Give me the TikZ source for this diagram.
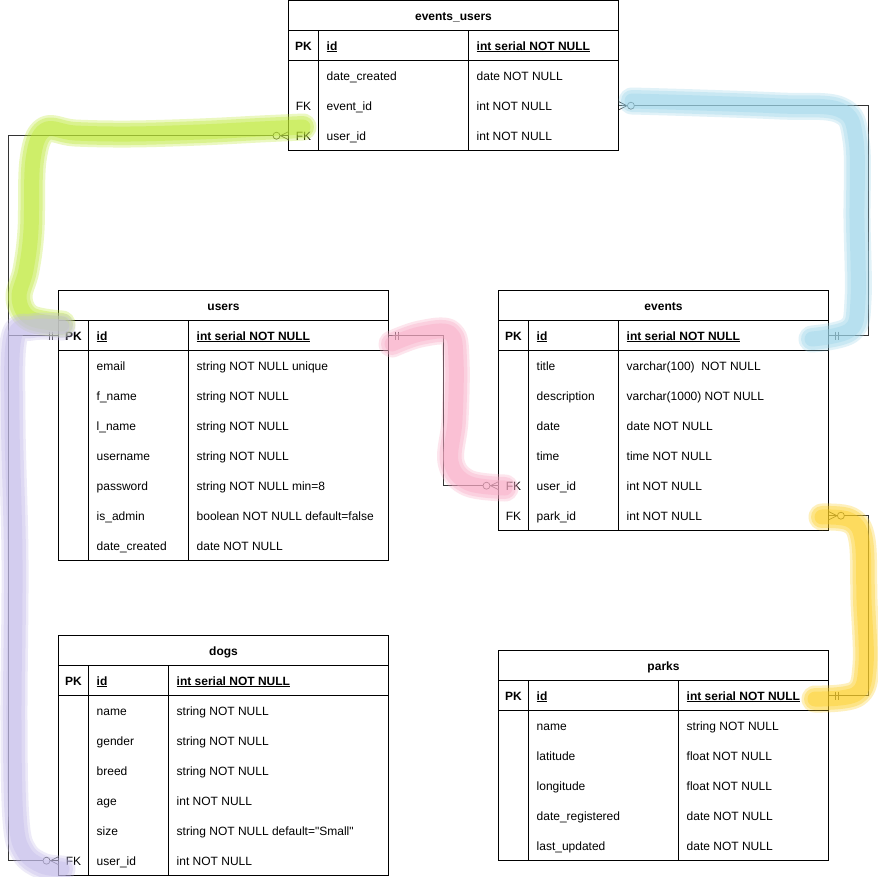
\documentclass[tikz,border=0pt]{standalone}
\usepackage{fontspec}
\setmainfont{Liberation Sans}[Ligatures=TeXOff]
\usetikzlibrary{calc}
\definecolor{hlgreen}{HTML}{BDE832}
\definecolor{hlblue}{HTML}{9DD6EA}
\definecolor{hlpink}{HTML}{F9AAC5}
\definecolor{hlyellow}{HTML}{FDCF22}
\definecolor{hlpurple}{HTML}{C4BCEA}
\newcommand\tabfont{\fontsize{12}{14}\selectfont}
\newcommand\nok{}
% #1 name #2 L #3 C1 #4 C2 #5 R #6 T #7 n rows (without PK) #8 title #9 rows
\newcommand\ertable[9]{%
  \pgfmathsetmacro\tw{#5-#2}%
  \pgfmathsetmacro\tmid{(#2+#5)/2}%
  \pgfmathsetmacro\kmid{(#2+#3)/2}%
  \pgfmathsetmacro\bot{#6+60+30*#7}%
  \node[celltxt, font=\tabfont\bfseries] (#1-title) at (\tmid,#6+15.5) {#8};
  \foreach[count=\i from 0] \k/\f/\ty in {#9}{%
    \pgfmathsetmacro\yy{#6+30+30*\i}%
    \node[rowbox, minimum width=\tw pt, anchor=north west] (#1-\i) at (#2,\yy) {};
    \ifnum\i=0
      \node[celltxt, font=\tabfont\bfseries] (#1-\i-k) at (\kmid,\yy+15.5) {\k};
      \node[celltxt, anchor=west, font=\tabfont\bfseries] (#1-\i-f) at (#3+8,\yy+15.5) {\underline{\f}};
      \node[celltxt, anchor=west, font=\tabfont\bfseries] (#1-\i-t) at (#4+8,\yy+15.5) {\underline{\ty}};
    \else
      \node[celltxt] (#1-\i-k) at (\kmid,\yy+15.5) {\k};
      \node[celltxt, anchor=west] (#1-\i-f) at (#3+8,\yy+15.5) {\f};
      \node[celltxt, anchor=west] (#1-\i-t) at (#4+8,\yy+15.5) {\ty};
    \fi
  }
  \draw[tline] (#2,#6) rectangle (#5,\bot);
  \draw[tline] (#2,#6+30) -- (#5,#6+30) (#2,#6+60) -- (#5,#6+60)
               (#3,#6+30) -- (#3,\bot) (#4,#6+30) -- (#4,\bot);
}
% zero-or-many marker: #1 anchor, #2 outward sign
\newcommand\zmany[2]{%
  \draw[conn] ($(#1)+(0,4)$) -- ($(#1)+(#2*8,0)$) -- ($(#1)+(0,-4)$);
  \draw[conn, fill=white] ($(#1)+(#2*12,0)$) circle[radius=3.5];
}
% mandatory-one marker
\newcommand\mone[2]{%
  \draw[conn] ($(#1)+(#2*6,-4)$) -- ($(#1)+(#2*6,4)$);
  \draw[conn] ($(#1)+(#2*9,-4)$) -- ($(#1)+(#2*9,4)$);
}
% brush stroke: #1 colour, #2 coordinates
\newcommand\brush[2]{%
  \draw[hl, #1, line width=27pt, opacity=0.30] plot[smooth, tension=0.6] coordinates {#2};
  \draw[hl, #1, line width=22pt, opacity=0.35] plot[smooth, tension=0.6] coordinates {#2};
  \draw[hl, #1, line width=15pt, opacity=0.40] plot[smooth, tension=0.6] coordinates {#2};
}
\begin{document}
\begin{tikzpicture}[x=1pt,y=-1pt,
  celltxt/.style={inner sep=0pt, text height=10pt, text depth=2pt, font=\tabfont},
  rowbox/.style={inner sep=0pt, minimum height=30pt, draw=none},
  tline/.style={draw=black, line width=1pt},
  conn/.style={draw=black!80, line width=0.7pt},
  hl/.style={line cap=round, line join=round}]
\useasboundingbox (0,0) rectangle (878,876);
\fill[white] (0,0) rectangle (878,876);

\ertable{eu}{288.5}{318.5}{468.5}{618.5}{0.5}{3}{events\_users}{%
  PK/id/int serial NOT NULL,
  \nok/date\_created/date NOT NULL,
  FK/event\_id/int NOT NULL,
  FK/user\_id/int NOT NULL}

\ertable{users}{58.5}{88.5}{188.5}{388.5}{290.5}{7}{users}{%
  PK/id/int serial NOT NULL,
  \nok/email/string NOT NULL unique,
  \nok/f\_name/string NOT NULL,
  \nok/l\_name/string NOT NULL,
  \nok/username/string NOT NULL,
  \nok/password/string NOT NULL min=8,
  \nok/is\_admin/boolean NOT NULL default=false,
  \nok/date\_created/date NOT NULL}

\ertable{events}{498.5}{528.5}{618.5}{828.5}{290.5}{6}{events}{%
  PK/id/int serial NOT NULL,
  \nok/title/varchar(100)\ \ NOT NULL,
  \nok/description/varchar(1000) NOT NULL,
  \nok/date/date NOT NULL,
  \nok/time/time NOT NULL,
  FK/user\_id/int NOT NULL,
  FK/park\_id/int NOT NULL}

\ertable{dogs}{58.5}{88.5}{168.5}{388.5}{635.5}{6}{dogs}{%
  PK/id/int serial NOT NULL,
  \nok/name/string NOT NULL,
  \nok/gender/string NOT NULL,
  \nok/breed/string NOT NULL,
  \nok/age/int NOT NULL,
  \nok/size/string NOT NULL default="Small",
  FK/user\_id/int NOT NULL}

\ertable{parks}{498.5}{528.5}{678.5}{828.5}{650.5}{5}{parks}{%
  PK/id/int serial NOT NULL,
  \nok/name/string NOT NULL,
  \nok/latitude/float NOT NULL,
  \nok/longitude/float NOT NULL,
  \nok/date\_registered/date NOT NULL,
  \nok/last\_updated/date NOT NULL}

% connectors
\coordinate (lx) at (8.5,0);
\coordinate (rx) at (868.5,0);
\coordinate (mx) at (443.5,0);
\draw[conn] (eu-3.west) -- (eu-3.west -| lx) -- (users-0.west -| lx) -- (users-0.west);
\draw[conn] (dogs-6.west) -- (dogs-6.west -| lx) -- (users-0.west -| lx) -- (users-0.west);
\draw[conn] (eu-2.east) -- (eu-2.east -| rx) -- (events-0.east -| rx) -- (events-0.east);
\draw[conn] (users-0.east) -- (users-0.east -| mx) -- (events-5.west -| mx) -- (events-5.west);
\draw[conn] (events-6.east) -- (events-6.east -| rx) -- (parks-0.east -| rx) -- (parks-0.east);

\zmany{eu-3.west}{-1}
\zmany{dogs-6.west}{-1}
\zmany{eu-2.east}{1}
\zmany{events-5.west}{-1}
\zmany{events-6.east}{1}
\mone{users-0.west}{-1}
\mone{users-0.east}{1}
\mone{events-0.east}{1}
\mone{parks-0.east}{1}

% highlighter strokes
\brush{hlgreen}{(303,127) (260,129) (200,132) (130,134) (75,133) (45,130)
  (33,160) (31,230) (26,270) (19,298) (30,318) (62,324)}
\brush{hlpurple}{(62,327) (32,327) (14,338) (12,420) (15,560) (14,720)
  (16,820) (24,852) (42,866) (62,869)}
\brush{hlblue}{(632,101) (700,103) (780,106) (840,110) (856,140) (857,220)
  (858,300) (850,330) (812,339)}
\brush{hlpink}{(392,344) (420,334) (450,333) (456,360) (455,420) (451,462)
  (468,483) (505,488)}
\brush{hlyellow}{(822,517) (850,520) (862,540) (864,600) (866,665) (856,694)
  (815,699)}
\end{tikzpicture}
\end{document}
